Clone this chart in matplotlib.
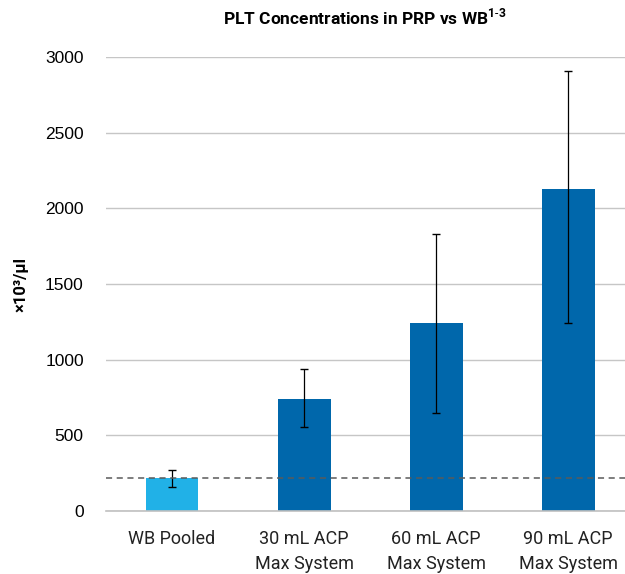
import matplotlib
matplotlib.use("Agg")
import matplotlib.pyplot as plt

categories = ["WB Pooled", "30 mL ACP\nMax System", "60 mL ACP\nMax System", "90 mL ACP\nMax System"]
values = [218, 740, 1242, 2128]
err_low = [159, 555, 648, 1242]
err_high = [271, 938, 1831, 2908]
colors = ["#21b1e7", "#0067ab", "#0067ab", "#0067ab"]
wb_level = 218
yticks = [0, 500, 1000, 1500, 2000, 2500, 3000]

plt.rcParams['font.family'] = ['Roboto', 'DejaVu Sans']
plt.rcParams['mathtext.fontset'] = 'custom'
plt.rcParams['mathtext.rm'] = 'Roboto'
plt.rcParams['mathtext.bf'] = 'Roboto:bold'

fig = plt.figure(figsize=(6.25, 5.74), dpi=100)
ax = fig.add_axes([106/625, 1-511/574, 519/625, 454/574])

x = list(range(len(categories)))
yerr = [[v - lo for v, lo in zip(values, err_low)],
        [hi - v for v, hi in zip(values, err_high)]]
ax.bar(x, values, width=0.4, color=colors, zorder=2)
ax.errorbar(x, values, yerr=yerr, fmt="none", ecolor="black", elinewidth=0.9,
            capsize=3, capthick=1, zorder=3)
ax.axhline(wb_level, color="#5a5a5a", linestyle=(0, (4, 3)), linewidth=1.1, zorder=4)

ax.set_xlim(-0.5, 3.43)
ax.set_ylim(0, 3000)
ax.set_yticks(yticks)
ax.set_yticklabels([str(t) for t in yticks], fontsize=12.5, family=['Liberation Sans'])
ax.set_xticks(x)
ax.set_xticklabels(categories, fontsize=13, color="#222222", linespacing=1.5)
ax.yaxis.grid(True, color="#c6c6c6", linewidth=1, zorder=0)
ax.set_axisbelow(True)
for s in ["top", "right", "left"]:
    ax.spines[s].set_visible(False)
ax.spines["bottom"].set_color("#c0c0c0")
ax.spines["bottom"].set_linewidth(1.2)
ax.tick_params(length=0)
ax.tick_params(axis="x", pad=14)
ax.tick_params(axis="y", pad=16)

ax.set_ylabel("×10³/µl", fontsize=12, fontweight="bold", labelpad=12)
fig.text(0.584, 0.97, r"PLT Concentrations in PRP vs WB$^{\mathbf{1\text{-}3}}$", ha="center",
         va="center", fontsize=12.5, fontweight="bold")

fig.savefig("out.png", dpi=100)
